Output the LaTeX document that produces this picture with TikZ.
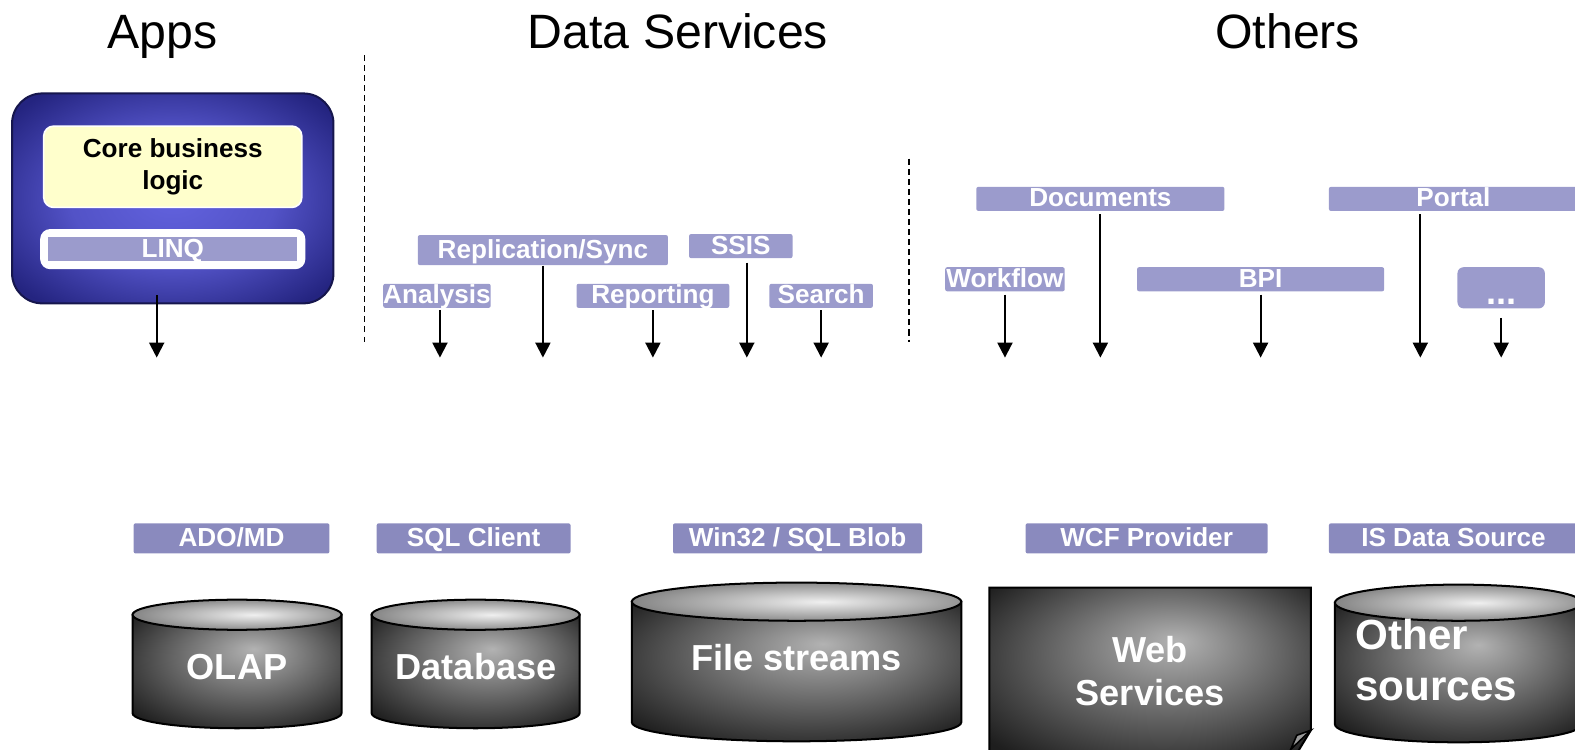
\documentclass[tikz,border=0pt]{standalone}
\usepackage{fontspec}
\setmainfont{Liberation Sans}
\usetikzlibrary{arrows.meta}

\definecolor{lblfill}{RGB}{155,155,204}
\definecolor{lbldark}{RGB}{138,138,190}
\definecolor{coreyellow}{RGB}{255,255,204}
\definecolor{appsin}{RGB}{98,98,222}
\definecolor{appsout}{RGB}{36,36,128}
\pgfdeclareradialshading{appshade}{\pgfpoint{0bp}{0bp}}{color(0bp)=(appsin); color(16bp)=(appsin!75!appsout); color(32bp)=(appsout); color(50bp)=(appsout)}
\pgfdeclareradialshading{drumshade}{\pgfpoint{4bp}{10bp}}{color(0bp)=(black!30); color(34bp)=(black!88); color(50bp)=(black!92)}
\pgfdeclareradialshading{lidshade}{\pgfpoint{4bp}{0bp}}{color(0bp)=(black!6); color(27bp)=(black!48); color(50bp)=(black!55)}

\begin{document}
\begin{tikzpicture}[x=0.5pt, y=-0.5pt,
    title/.style={font=\fontsize{24}{28}\selectfont, anchor=base},
    tag/.style={fill=lblfill, text=white, font=\bfseries\fontsize{13}{15}\selectfont, inner sep=0pt, minimum height=12pt, text height=10pt, text depth=2pt, rounded corners=1pt},
    basetag/.style={tag, fill=lbldark, minimum height=15pt},
    arr/.style={-{Triangle[width=7.5pt,length=7.5pt]}, line width=1pt},
    drumtext/.style={text=white, font=\bfseries\fontsize{18}{21.5}\selectfont, align=center},
    sep/.style={line width=0.6pt, dash pattern=on 3pt off 2pt}
  ]
  \useasboundingbox (0,0) rectangle (1568,746);
  \clip (0,0) rectangle (1568,746);

  % column titles
  \node[title] (appstitle)   at (162,48)  {Apps};
  \node[title] (datatitle)   at (675,48)  {Data Services};
  \node[title] (otherstitle) at (1282,48) {Others};

  \draw[sep] (363,55) -- (363,340);
  \draw[sep] (905,158) -- (905,340);

  % apps block
  \node[shading=appshade, draw=appsout!60!black, line width=1pt, rounded corners=15pt,
        minimum width=160pt, minimum height=104.5pt] (apps) at (172,197.5) {};
  \node[fill=coreyellow, draw=white, line width=0.8pt, rounded corners=5pt, align=center,
        minimum width=128.5pt, minimum height=40.5pt, font=\bfseries\fontsize{13}{16}\selectfont]
        (core) at (172,166) {Core business\\logic};
  \node[fill=white, rounded corners=5pt, minimum width=132pt, minimum height=20pt] (linqframe) at (172,248) {};
  \node[tag, rounded corners=0pt, minimum width=124pt] (linq) at (172,248) {LINQ};

  % data services
  \node[tag, minimum width=52pt]                     (analysis)  at (435,294.5) {Analysis};
  \node[tag, minimum width=124.5pt, minimum height=15pt] (repl)  at (540.5,249) {Replication/Sync};
  \node[tag, minimum width=51.5pt]                   (ssis)      at (737.5,245) {SSIS};
  \node[tag, minimum width=76pt]                     (reporting) at (650,294.5) {Reporting};
  \node[tag, minimum width=51.5pt]                   (search)    at (817.5,294.5) {Search};

  % others
  \node[tag, minimum width=123.5pt] (documents) at (1095.5,198) {Documents};
  \node[tag, minimum width=124pt]   (portal)    at (1447,198)   {Portal};
  \node[tag, minimum width=59.5pt]  (workflow)  at (1000.5,278) {Workflow};
  \node[tag, minimum width=123pt]   (bpi)       at (1255,278)   {BPI};
  \node[tag, minimum width=43.5pt, minimum height=20.5pt, rounded corners=3pt, font=\bfseries\fontsize{18}{20}\selectfont]
        (dots) at (1494.5,286.5) {\smash{\raisebox{-4.5pt}{...}}};

  % arrows
  \coordinate (tips) at (0,356);
  \coordinate (appsfoot)     at ([xshift=-8pt,yshift=4.5pt]apps.south);
  \coordinate (analysisfoot) at ([xshift=1.5pt,yshift=-1pt]analysis.south);
  \coordinate (ssisfoot)     at ([xshift=3pt,yshift=-2pt]ssis.south);
  \coordinate (portalfoot)   at ([xshift=-16.5pt,yshift=-1.5pt]portal.south);
  \draw[arr] (appsfoot) -- (appsfoot |- tips);
  \draw[arr] (analysisfoot) -- (analysisfoot |- tips);
  \draw[arr] (repl.south) -- (repl.south |- tips);
  \draw[arr] ([yshift=-1pt]reporting.south) -- (reporting.south |- tips);
  \draw[arr] (ssisfoot) -- (ssisfoot |- tips);
  \draw[arr] ([yshift=-1pt]search.south) -- (search.south |- tips);
  \draw[arr] ([yshift=-1.5pt]workflow.south) -- (workflow.south |- tips);
  \draw[arr] ([yshift=-1.5pt]documents.south) -- (documents.south |- tips);
  \draw[arr] ([yshift=-1.5pt]bpi.south) -- (bpi.south |- tips);
  \draw[arr] (portalfoot) -- (portalfoot |- tips);
  \draw[arr, shorten <=4.5pt] (dots.south) -- (dots.south |- tips);

  % providers
  \node[basetag, minimum width=97.5pt] (adomd)     at (230.5,536) {ADO/MD};
  \node[basetag, minimum width=96.5pt] (sqlclient) at (471.5,536) {SQL Client};
  \node[basetag, minimum width=124pt]  (win32)     at (794,536)   {Win32 / SQL Blob};
  \node[basetag, minimum width=120.5pt] (wcf)      at (1141.5,536) {WCF Provider};
  \node[basetag, minimum width=124pt]  (isds)      at (1447,536)  {IS Data Source};

  % stores
  \foreach \xa/\xb/\ya/\yb/\ry in {132/340/612/710/15, 370/577/612/710/15, 629/957/599/719/19, 1329/1575/600/721/18}{
    \shadedraw[shading=drumshade, line width=1pt] (\xa,\ya) -- (\xa,\yb)
      arc[start angle=180, end angle=360, x radius={(\xb-\xa)/4*1pt}, y radius={\ry/2*1pt}] -- (\xb,\ya) -- cycle;
    \shadedraw[shading=lidshade, line width=1pt] ({(\xa+\xb)/2},\ya)
      ellipse[x radius={(\xb-\xa)/4*1pt}, y radius={\ry/2*1pt}];
  }
  \shadedraw[shading=drumshade, line width=1pt] (985,585) -- (1305,585) -- (1305,727) -- (1285,760) -- (985,760) -- cycle;
  \filldraw[fill=black!40, line width=0.8pt] (1305,727) -- (1285,746) -- (1291,732) -- cycle;

  \node[drumtext] (olap)     at (236,664)  {OLAP};
  \node[drumtext] (database) at (474,664)  {Database};
  \node[drumtext] (files)    at (793,655)  {File streams};
  \node[drumtext] (web)      at (1145,668) {Web\\Services};
  \node[drumtext, align=left, anchor=west, inner sep=0pt, font=\bfseries\fontsize{21}{25.5}\selectfont]
        (othersrc) at (1349,657) {Other\\sources};
\end{tikzpicture}
\end{document}
